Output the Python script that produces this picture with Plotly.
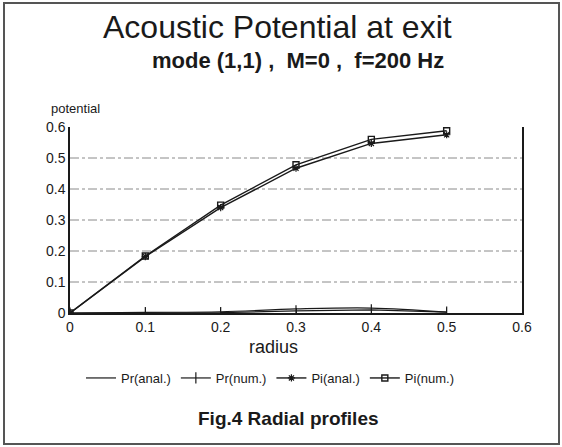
import plotly.graph_objects as go

# --- data ---
radius = [0.0, 0.1, 0.2, 0.3, 0.4, 0.5]
pr_anal = [0.0, 0.002, 0.004, 0.013, 0.016, 0.003]
pr_num = [0.0, 0.001, 0.001, 0.007, 0.010, 0.003]
pi_anal = [0.0, 0.182, 0.340, 0.467, 0.547, 0.575]
pi_num = [0.0, 0.184, 0.348, 0.478, 0.560, 0.588]

x_ticks = [0, 0.1, 0.2, 0.3, 0.4, 0.5, 0.6]
y_ticks = [0, 0.1, 0.2, 0.3, 0.4, 0.5, 0.6]
grid_levels = [0.1, 0.2, 0.3, 0.4, 0.5]

FONT = "Liberation Sans, Arial, Helvetica, sans-serif"
INK = "#1a1a1a"
NB = "\u00a0"

W, H = 562, 447
L, R, T, B = 70, 40, 127, 134
pw, ph = W - L - R, H - T - B


def px_x(x):
    # pixel -> paper x
    return (x - L) / pw


def px_y(y):
    # pixel -> paper y
    return (H - B - y) / ph


fig = go.Figure()

fig.add_trace(go.Scatter(
    x=radius, y=pr_anal, name="Pr(anal.)", mode="lines",
    line=dict(color=INK, width=1.2, shape="spline"),
))
fig.add_trace(go.Scatter(
    x=radius, y=pr_num, name="Pr(num.)", mode="lines+markers",
    line=dict(color=INK, width=1.2),
    marker=dict(symbol="line-ns", size=8, line=dict(color=INK, width=1.2)),
))
fig.add_trace(go.Scatter(
    x=radius, y=pi_anal, name="Pi(anal.)", mode="lines+markers",
    line=dict(color=INK, width=1.4),
    marker=dict(symbol="asterisk", size=6, line=dict(color=INK, width=1.2)),
))
fig.add_trace(go.Scatter(
    x=radius, y=pi_num, name="Pi(num.)", mode="lines+markers",
    line=dict(color=INK, width=1.4),
    marker=dict(symbol="square-open", size=6, line=dict(color=INK, width=1.4)),
))

# dash-dot horizontal gridlines
for g in grid_levels:
    fig.add_shape(type="line", xref="paper", yref="y", x0=0, x1=1, y0=g, y1=g,
                  line=dict(color="#8a8a8a", width=1, dash="dashdot"), layer="below")

# outer frame of the figure
fig.add_shape(type="rect", xref="paper", yref="paper",
              x0=px_x(4), x1=px_x(559), y0=px_y(444), y1=px_y(3),
              line=dict(color="#555555", width=2))

subtitle = f"mode (1,1){NB},{NB} M=0{NB},{NB} f=200 Hz"
annotations = [
    dict(text="Acoustic Potential at exit", x=px_x(277), y=px_y(27),
         font=dict(size=32, color=INK)),
    dict(text=f"<b>{subtitle}</b>", x=px_x(298), y=px_y(60),
         font=dict(size=22, color=INK)),
    dict(text="potential", x=px_x(49), y=px_y(108), xanchor="left",
         font=dict(size=13, color=INK)),
    dict(text="radius", x=px_x(273), y=px_y(347),
         font=dict(size=18, color=INK)),
    dict(text="<b>Fig.4 Radial profiles</b>", x=px_x(288), y=px_y(418),
         font=dict(size=19, color=INK)),
]
for a in annotations:
    fig.add_annotation(xref="paper", yref="paper", showarrow=False,
                       xanchor=a.pop("xanchor", "center"), yanchor="middle", **a)

fig.update_layout(
    width=W, height=H,
    margin=dict(l=L, r=R, t=T, b=B),
    paper_bgcolor="white", plot_bgcolor="white",
    font=dict(family=FONT, color=INK),
    showlegend=True,
    legend=dict(orientation="h", x=px_x(270), xanchor="center",
                y=px_y(378), yanchor="middle",
                font=dict(size=13, color=INK), itemwidth=30,
                bgcolor="rgba(0,0,0,0)"),
    xaxis=dict(range=[0, 0.6], tickvals=x_ticks, showgrid=False, zeroline=False,
               showline=True, linecolor=INK, linewidth=1.5,
               ticks="inside", ticklen=5, tickcolor=INK,
               tickfont=dict(size=14, color=INK)),
    yaxis=dict(range=[0, 0.6], tickvals=y_ticks, showgrid=False, zeroline=False,
               showline=True, mirror=True, linecolor=INK, linewidth=1.5,
               ticks="", tickfont=dict(size=14, color=INK)),
)

# page body has a default margin; drop it so the figure sits at the window origin
fig.write_html("out.html", config={"displayModeBar": False},
               post_script="document.body.style.margin='0';")
